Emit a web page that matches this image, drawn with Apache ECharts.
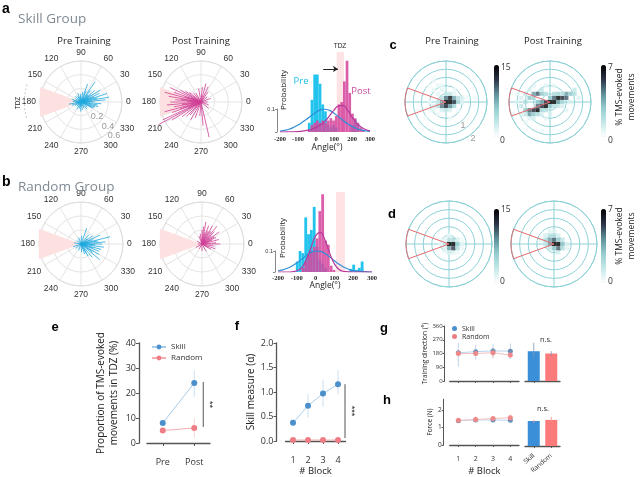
<!DOCTYPE html>
<html><head><meta charset="utf-8">
<script src="https://cdn.jsdelivr.net/npm/echarts@6/dist/echarts.min.js"></script>
<style>html,body{margin:0;padding:0;background:#fff}#c{width:640px;height:477px}</style>
</head><body><div id="c"></div>
<script>
// ================= DATA =================
// polar spokes: [angle (deg), length]
const spokesSkillPre = [[10,0.42],[18,0.40],[32,0.33],[25,0.30],[5,0.36],[355,0.30],[350,0.25],[340,0.22],[333,0.19],[40,0.26],[50,0.22],[55,0.36],[70,0.28],[65,0.18],[80,0.15],[95,0.12],[110,0.14],[120,0.10],[135,0.12],[150,0.10],[165,0.14],[175,0.12],[190,0.18],[200,0.14],[210,0.10],[225,0.09],[240,0.12],[255,0.10],[268,0.14],[280,0.12],[295,0.10],[310,0.14],[320,0.12],[335,0.20],[345,0.26],[2,0.18],[14,0.25],[22,0.20],[36,0.18],[45,0.15],[28,0.12],[12,0.10],[100,0.08],[185,0.08],[260,0.07]];
const spokesSkillPost = [[150,0.35],[155,0.50],[160,0.42],[165,0.55],[170,0.48],[175,0.38],[180,0.45],[185,0.50],[190,0.40],[195,0.55],[200,0.45],[205,0.62],[208,0.70],[212,0.50],[218,0.35],[225,0.30],[145,0.28],[140,0.22],[130,0.18],[120,0.15],[100,0.20],[85,0.22],[75,0.28],[65,0.25],[55,0.18],[40,0.12],[20,0.15],[0,0.10],[340,0.12],[320,0.15],[283,0.53],[275,0.35],[265,0.20],[250,0.25],[240,0.30],[230,0.25],[172,0.30],[188,0.28],[198,0.32],[162,0.25],[178,0.20],[158,0.15],[205,0.20]];
const spokesRandPre = [[14,0.43],[5,0.35],[0,0.30],[352,0.33],[345,0.30],[338,0.28],[330,0.30],[320,0.35],[310,0.25],[300,0.20],[290,0.15],[25,0.30],[35,0.20],[50,0.18],[70,0.24],[85,0.12],[110,0.10],[140,0.08],[170,0.10],[200,0.12],[220,0.10],[250,0.10],[275,0.12],[300,0.14],[10,0.25],[357,0.20],[20,0.18],[325,0.20],[342,0.18],[40,0.12]];
const spokesRandPost = [[80,0.32],[70,0.28],[60,0.30],[50,0.33],[45,0.25],[35,0.30],[25,0.22],[15,0.25],[5,0.20],[0,0.26],[350,0.18],[340,0.20],[330,0.15],[90,0.20],[100,0.15],[110,0.12],[75,0.18],[65,0.20],[55,0.22],[40,0.18],[30,0.20],[150,0.08],[180,0.06],[210,0.10],[240,0.08],[270,0.10],[300,0.12],[330,0.10],[85,0.25],[20,0.15]];
const tdzPolar = [160, 200];
const tdzHeat = [160, 200];

// histograms: [bin start, probability]
const histBinWidth = 15;
const histSkillPre = [[-45,0.04],[-30,0.14],[-15,0.25],[0,0.25],[15,0.21],[30,0.12],[45,0.09],[60,0.03],[75,0.02],[90,0.03],[105,0.02],[195,0.03],[210,0.055],[225,0.035]];
const histSkillPost = [[-45,0.01],[-30,0.03],[-15,0.04],[0,0.05],[15,0.04],[30,0.05],[45,0.04],[60,0.05],[75,0.06],[90,0.05],[105,0.07],[120,0.12],[135,0.13],[150,0.22],[165,0.31],[180,0.17],[195,0.08],[210,0.06],[225,0.04],[240,0.02],[255,0.01]];
const histRandPre = [[-105,0.05],[-90,0.10],[-75,0.09],[-60,0.26],[-45,0.18],[-30,0.20],[-15,0.31],[0,0.12],[15,0.06],[30,0.04],[45,0.02],[180,0.015],[195,0.035],[210,0.01],[225,0.02],[240,0.05]];
const histRandPost = [[-75,0.02],[-60,0.05],[-45,0.08],[-30,0.10],[-15,0.12],[0,0.16],[15,0.29],[30,0.37],[45,0.15],[60,0.13],[75,0.03],[90,0.01]];
const curveX = [-200,-175,-150,-125,-100,-75,-50,-25,0,25,50,75,100,125,150,175,200,225,250,275,300];
const curveSkillPre  = [0.004,0.007,0.012,0.02,0.03,0.043,0.057,0.072,0.086,0.096,0.099,0.094,0.082,0.067,0.051,0.036,0.024,0.015,0.009,0.005,0.003];
const curveSkillPost = [0,0,0.001,0.001,0.002,0.004,0.007,0.012,0.02,0.031,0.046,0.07,0.095,0.114,0.116,0.095,0.065,0.04,0.022,0.011,0.005];
const curveRandPre   = [0.006,0.01,0.018,0.029,0.043,0.06,0.078,0.093,0.1,0.098,0.088,0.072,0.054,0.037,0.023,0.013,0.007,0.004,0.002,0.001,0];
const curveRandPost  = [0,0,0,0.001,0.006,0.02,0.057,0.115,0.172,0.189,0.152,0.09,0.039,0.012,0.003,0.001,0,0,0,0,0];
const bandSkill = [115, 155];
const bandRand = [108, 156];

// heat maps: [x, y, % movements]
const heatSkillPre = [[0,0,15],[0.2,0,15],[0.4,0,12],[0,0.2,10],[0.2,0.2,14],[0.4,0.2,8],[0,-0.2,13],[0.2,-0.2,9],[-0.2,0,8],[-0.2,-0.2,10],[0.6,0,5],[0.6,0.2,4],[0.4,-0.2,5],[-0.2,0.2,4],[0,0.4,3],[0.2,0.4,3],[-0.4,0,3],[-0.4,-0.2,4],[-0.2,-0.4,2],[0,-0.4,3],[0.2,-0.4,2],[0.8,0.2,2],[0.8,0,1.5],[-0.6,-0.2,2],[-0.4,0.4,1.5],[0.4,0.4,1.5],[-0.6,0.6,1],[-0.4,0.8,1.2],[-0.2,0.8,1],[-0.6,-0.4,1.5],[-0.4,-0.6,1],[-0.8,-0.4,1],[0.6,-0.4,1],[1.0,0.2,0.8],[-0.8,0,1],[0.4,0.6,1],[-0.2,0.6,1.5],[1.4,0.2,0.8],[-0.6,1.2,0.8],[0.2,-0.8,0.8],[-1.0,-0.8,0.6],[-0.6,1.0,0.9],[-0.8,0.8,0.7]];
const heatSkillPost = [[0,0,7],[0.2,0,7],[0.4,0.2,7],[0.6,0.2,6],[0.8,0.2,5],[0.8,0.4,4],[1.0,0.4,3],[0.2,0.2,5],[-0.2,0,6],[-0.2,-0.2,7],[-0.4,-0.2,6],[-0.6,-0.2,5],[-0.6,-0.4,7],[-0.8,-0.4,6],[-1.0,-0.4,5],[-1.0,-0.6,4],[-0.8,-0.6,3],[-1.2,-0.4,3],[-0.6,0.4,5],[-0.8,0.4,4],[-0.4,0.4,3],[-1.0,0.2,3],[-0.8,0.2,2.5],[-0.6,0,3],[-0.4,0,4],[0.4,0,4],[0.6,0,2.5],[0,0.2,3],[0,-0.2,3],[0.2,-0.2,2],[1.2,0.4,2],[1.2,0.6,1.5],[-1.2,0,2],[-1.4,-0.2,1.5],[-1.4,0.2,1],[-1.2,0.4,1.5],[-1.0,0.6,1],[-0.4,0.6,1.5],[-0.2,0.4,2],[0.2,0.4,2],[0.4,0.4,2.5],[0.6,0.4,2],[0.4,-0.2,1.5],[0.6,-0.2,1],[-0.2,-0.4,2],[-0.4,-0.4,2.5],[-0.6,-0.6,2],[-1.2,-0.6,1.5],[-1.4,-0.6,1],[-0.8,-0.8,1],[-1.0,-0.8,0.8],[-0.4,-0.6,1],[-1.6,0,0.8],[-1.6,0.4,0.7],[-0.8,0.8,0.8],[-0.2,0.8,0.7],[0.2,0.8,0.6],[1.4,0.2,0.8],[1.0,0,1],[0.8,-0.4,0.7],[-0.2,-0.8,0.7],[0,-0.6,1],[-1.8,-0.6,0.6],[-1.2,-1.0,0.6],[-0.4,-1.4,0.5]];
const heatRandPre = [[0,0,15],[0.2,0,15],[0.2,-0.2,12],[0,-0.2,8],[0.4,0,6],[0.2,0.2,5],[0,0.2,4],[-0.2,0,3],[0.4,-0.2,4],[0.4,0.2,2],[-0.2,-0.2,2],[-0.2,0.2,1.5],[0.6,0,1.5],[0.6,-0.2,1],[0,-0.4,2],[0.2,-0.4,1.5],[-0.4,0,1],[0,0.4,1],[0.4,-0.4,1],[-0.4,0.2,0.8],[0.6,0.2,0.7],[-0.2,-0.4,0.7]];
const heatRandPost = [[0,0,7],[0.2,0,7],[0.2,-0.2,5],[0,0.2,5],[-0.2,0.2,4],[0.2,0.2,3],[-0.2,0,4],[0.4,0,3],[0,-0.2,3],[-0.4,0.2,2],[-0.2,0.4,2],[0,0.4,2],[0.4,-0.2,2],[-0.4,0,1.5],[0.4,0.2,1.5],[-0.4,0.4,1],[0.2,0.4,1],[-0.2,-0.2,1.5],[0.2,-0.4,1],[0.6,0,1],[-0.6,0.2,0.8],[0,0.6,0.8],[-0.2,0.6,0.7],[0.6,-0.2,0.7]];
const heatMaxPre = 15, heatMaxPost = 7;

// panel e
const eCats = ['Pre','Post'];
const eSkill = [8, 24];
const eSkillErr = [[7,9],[18.5,29]];
const eRandom = [5, 6];
const eRandomErr = [[4.4,5.6],[2,10]];
// panel f
const blocks = ['1','2','3','4'];
const fSkill = [0.37, 0.72, 0.97, 1.16];
const fSkillErr = [[0.30,0.45],[0.48,0.96],[0.70,1.25],[0.95,1.45]];
const fRandom = [0.02, 0.02, 0.02, 0.02];
// panel g
const gSkill = [185, 192, 197, 195];
const gSkillErr = [[95,250],[140,235],[150,240],[145,245]];
const gRandom = [180, 180, 185, 170];
const gRandomErr = [[160,200],[165,195],[150,215],[150,190]];
const groups = ['Skill','Random'];
const gBars = [195, 180];
const gBarErr = [[150,250],[165,195]];
// panel h
const hSkill = [1.38, 1.42, 1.42, 1.40];
const hSkillErr = [[1.28,1.48],[1.32,1.52],[1.34,1.50],[1.33,1.47]];
const hRandom = [1.40, 1.45, 1.50, 1.55];
const hRandomErr = [[1.30,1.50],[1.30,1.62],[1.38,1.65],[1.40,1.72]];
const hBars = [1.39, 1.45];
const hBarErr = [[1.30,1.45],[1.35,1.62]];

// ================= BUILD =================
const SANS = "'Open Sans', 'Liberation Sans', sans-serif";
const ARIAL = "'Liberation Sans', Arial, sans-serif";
const TEAL = '#8fd2d8';
const HEAT = ['#ffffff','#c4e8e8','#94cdd0','#5f8f9a','#2a3346','#000000'];
const polar=[], angleAxis=[], radiusAxis=[], grid=[], xAxis=[], yAxis=[], series=[], visualMap=[], graphic=[];

function spokePolar(center, R, spokes, color, tdzArc) {
  const pi = polar.length;
  polar.push({center, radius:R});
  angleAxis.push({polarIndex:pi, type:'value', min:0, max:360, interval:30, startAngle:0, clockwise:false,
    axisLine:{show:true, lineStyle:{color:'#dedede', width:1}}, axisTick:{show:false},
    axisLabel:{show:true, margin:4, fontSize:8.5, color:'#333', fontFamily:ARIAL, formatter:v=>v>=360?'':String(v)},
    splitLine:{show:true, lineStyle:{color:'#e4e4e4', width:1}}});
  radiusAxis.push({polarIndex:pi, type:'value', min:0, max:0.6, interval:0.2, axisLine:{show:false}, axisTick:{show:false},
    axisLabel:{show:false}, splitLine:{show:true, lineStyle:{color:'#e4e4e4'}}});
  series.push({type:'custom', coordinateSystem:'polar', polarIndex:pi, silent:true, z:1, data:[[0.64, tdzPolar[0]]],
    renderItem:(p,api)=>{
      const c0=api.coord([0,0]), a=api.coord([0.64,tdzPolar[0]]), b=api.coord([0.64,tdzPolar[1]]);
      const ch=[{type:'polygon', shape:{points:[c0,a,b]}, style:{fill:'#fde1e1'}}];
      if (tdzArc) {
        const pts=[]; for(let t=tdzPolar[0]+2;t<=tdzPolar[1]-2;t+=3) pts.push(api.coord([0.83,t]));
        ch.push({type:'polyline', shape:{points:pts}, style:{stroke:'#c8c8c8', lineWidth:1, lineDash:[2,2], fill:null}});
      }
      return {type:'group', children:ch};
    }});
  series.push({type:'custom', coordinateSystem:'polar', polarIndex:pi, silent:true, z:3, data:spokes.map(s=>[s[1],s[0]]),
    renderItem:(p,api)=>{
      const r=api.value(0), a=api.value(1);
      const c0=api.coord([0,a]), c1=api.coord([r,a]);
      return {type:'line', shape:{x1:c0[0],y1:c0[1],x2:c1[0],y2:c1[1]}, style:{stroke:color, lineWidth:0.8}};
    }});
}

function heatPolar(center, R, cells, maxV, cb) {
  const pi = polar.length;
  polar.push({center, radius:R});
  angleAxis.push({polarIndex:pi, type:'value', min:0, max:360, interval:90, startAngle:0, clockwise:false,
    axisLine:{show:true, lineStyle:{color:TEAL, width:1}}, axisTick:{show:false}, axisLabel:{show:false},
    splitLine:{show:true, lineStyle:{color:TEAL, width:1}}});
  radiusAxis.push({polarIndex:pi, type:'value', min:0, max:2, interval:0.4, axisLine:{show:false}, axisTick:{show:false},
    axisLabel:{show:false}, splitLine:{show:true, lineStyle:{color:TEAL, width:1}}});
  const gi = grid.length;
  grid.push({left:center[0]-R, top:center[1]-R, width:2*R, height:2*R});
  xAxis.push({gridIndex:gi, type:'value', min:-2, max:2, show:false});
  yAxis.push({gridIndex:gi, type:'value', min:-2, max:2, show:false});
  const si = series.length;
  series.push({type:'scatter', xAxisIndex:gi, yAxisIndex:gi, symbol:'rect', symbolSize:0.2*R/2, data:cells, silent:true, z:3});
  visualMap.push({type:'continuous', seriesIndex:si, dimension:2, min:0, max:maxV, inRange:{color:HEAT},
    left:cb[0], top:cb[1], itemWidth:5, itemHeight:cb[2], calculable:false, padding:0, hoverLink:false, orient:'vertical'});
  series.push({type:'custom', coordinateSystem:'polar', polarIndex:pi, silent:true, z:4, data:[[2, tdzHeat[0]]],
    renderItem:(p,api)=>{
      const pts=[api.coord([0,0])];
      for(let t=tdzHeat[0]; t<=tdzHeat[1]; t+=2) pts.push(api.coord([2,t]));
      pts.push(api.coord([0,0]));
      return {type:'polyline', shape:{points:pts}, style:{stroke:'#e36b70', lineWidth:1, fill:null}};
    }});
}

function hist(box, pre, post, cPre, cPost, band, ymax, arrow) {
  const gi = grid.length;
  grid.push({left:box.left, top:box.top, width:box.width, height:box.height});
  xAxis.push({gridIndex:gi, type:'value', min:-200, max:300, interval:100, axisLine:{show:false}, axisTick:{show:false},
    splitLine:{show:false}, axisLabel:{fontSize:6.5, fontWeight:'bold', color:'#222', fontFamily:"'Liberation Serif', serif", margin:box.lm}});
  yAxis.push({gridIndex:gi, type:'value', min:0, max:ymax, show:false});
  const bandSeries = {type:'custom', xAxisIndex:gi, yAxisIndex:gi, silent:true, z:1, data:[[band[0], 0, band[1]]],
    renderItem:(p,api)=>{
      const a=api.coord([api.value(0), ymax]), b=api.coord([api.value(2), 0]);
      return {type:'rect', shape:{x:a[0], y:a[1], width:b[0]-a[0], height:b[1]-a[1]}, style:{fill:'#fde3e3'}};
    }};
  if (arrow) bandSeries.markLine = {silent:true, symbol:['none','arrow'], symbolSize:5, animation:false,
    lineStyle:{color:'#222', width:1, type:'solid'}, label:{show:false},
    data:[[{coord:[arrow[0],arrow[2]]},{coord:[arrow[1],arrow[2]]}]]};
  series.push(bandSeries);
  const bar=(data,color,z)=>({type:'custom', xAxisIndex:gi, yAxisIndex:gi, silent:true, z, data,
    renderItem:(p,api)=>{
      const x0=api.value(0), v=api.value(1);
      const a=api.coord([x0,v]), b=api.coord([x0+histBinWidth,0]);
      return {type:'rect', shape:{x:a[0], y:a[1], width:b[0]-a[0], height:b[1]-a[1]}, style:{fill:color}};
    }});
  series.push(bar(pre,'#22c4ee',2));
  series.push(bar(post,'rgba(214,72,158,0.88)',3));
  series.push({type:'line', xAxisIndex:gi, yAxisIndex:gi, data:curveX.map((x,i)=>[x,cPre[i]]), smooth:true, showSymbol:false,
    silent:true, z:4, lineStyle:{color:'#2d8ed6', width:1.2}});
  series.push({type:'line', xAxisIndex:gi, yAxisIndex:gi, data:curveX.map((x,i)=>[x,cPost[i]]), smooth:true, showSymbol:false,
    silent:true, z:4, lineStyle:{color:'#b8399c', width:1.2}});
  const h01 = box.height*0.1/ymax;
  const gs = grid.length;
  grid.push({left:box.left-3, top:box.top+box.height-h01, width:1, height:h01});
  xAxis.push({gridIndex:gs, type:'value', min:0, max:1, show:false});
  yAxis.push({gridIndex:gs, type:'value', min:0, max:0.1, interval:0.1, axisLine:{show:true, lineStyle:{color:'#888'}},
    axisTick:{show:true, length:2, lineStyle:{color:'#888'}}, splitLine:{show:false},
    axisLabel:{fontSize:5.5, color:'#333', margin:2, fontFamily:ARIAL, formatter:v=>v>0?String(v):''}});
}

function errBars(gi, errs, color, z) {
  series.push({type:'custom', xAxisIndex:gi, yAxisIndex:gi, silent:true, z, data:errs.map((e,i)=>[i,e[0],e[1]]),
    renderItem:(p,api)=>{
      const a=api.coord([api.value(0),api.value(1)]), b=api.coord([api.value(0),api.value(2)]);
      return {type:'line', shape:{x1:a[0],y1:a[1],x2:b[0],y2:b[1]}, style:{stroke:color, lineWidth:1}};
    }});
}
function sigMark(gi, cat, lo, hi, text, dx) {
  series.push({type:'custom', xAxisIndex:gi, yAxisIndex:gi, silent:true, z:6, data:[[cat, lo, hi]],
    renderItem:(p,api)=>{
      const a=api.coord([api.value(0),api.value(1)]), b=api.coord([api.value(0),api.value(2)]);
      const x=a[0]+dx;
      return {type:'group', children:[
        {type:'line', shape:{x1:x,y1:a[1],x2:x,y2:b[1]}, style:{stroke:'#555', lineWidth:1}},
        {type:'text', x:x+6, y:(a[1]+b[1])/2, rotation:-Math.PI/2, style:{text, fontSize:9, fill:'#222', align:'center', verticalAlign:'middle', fontFamily:ARIAL}}
      ]};
    }});
}
function lineSeries(gi, name, data, lineColor, dotColor, size) {
  series.push({type:'line', name, xAxisIndex:gi, yAxisIndex:gi, data, symbol:'circle', symbolSize:size, silent:true, z:5,
    lineStyle:{color:lineColor, width:1}, itemStyle:{color:dotColor}});
}
const axisDark = {lineStyle:{color:'#555', width:1.3}};

// ---- panels a, b : polar spokes
spokePolar([81,102], 41, spokesSkillPre, '#1ea8de', true);
spokePolar([201,102], 41, spokesSkillPost, '#cf3f95', false);
spokePolar([81,244], 42, spokesRandPre, '#1ea8de', false);
spokePolar([202,244], 42, spokesRandPost, '#cf3f95', false);

// ---- histograms
hist({left:280, top:52, width:90, height:80, lm:4}, histSkillPre, histSkillPost, curveSkillPre, curveSkillPost, bandSkill, 0.348, [40,122,0.274]);
hist({left:278, top:192, width:94, height:80, lm:3}, histRandPre, histRandPost, curveRandPre, curveRandPost, bandRand, 0.381, null);

// ---- panels c, d : heat maps
heatPolar([446,102], 41, heatSkillPre, heatMaxPre, [494,65,72]);
heatPolar([550,102], 41, heatSkillPost, heatMaxPost, [601,65,72]);
heatPolar([449,244], 43, heatRandPre, heatMaxPre, [494,209,74]);
heatPolar([554,244], 43, heatRandPost, heatMaxPost, [601,209,74]);

// ---- panel e
const ge = grid.length;
grid.push({left:147, top:343, width:63, height:100});
xAxis.push({gridIndex:ge, type:'category', data:eCats, offset:10, axisLine:axisDark,
  axisTick:{show:true, alignWithLabel:true, length:3, lineStyle:{color:'#555'}},
  axisLabel:{fontSize:9, color:'#333', margin:5, fontFamily:SANS}});
yAxis.push({gridIndex:ge, type:'value', min:0, max:40, interval:10, offset:8, axisLine:{show:true, ...axisDark},
  axisTick:{show:true, length:3, lineStyle:{color:'#555'}}, splitLine:{show:false},
  axisLabel:{fontSize:9, color:'#333', margin:3, fontFamily:SANS},
  name:'Proportion of TMS-evoked\nmovements in TDZ (%)', nameLocation:'middle', nameGap:18,
  nameTextStyle:{fontSize:10, color:'#222', lineHeight:13, fontFamily:SANS}});
errBars(ge, eSkillErr, 'rgba(180,210,235,0.7)', 3);
errBars(ge, eRandomErr, 'rgba(245,195,195,0.7)', 3);
lineSeries(ge, 'Skill', eSkill, '#a7cdec', '#4b8fcb', 6);
lineSeries(ge, 'Random', eRandom, '#f3aeb1', '#ef7d85', 6);
sigMark(ge, 1, 6.4, 24.4, '**', 9);

// ---- panel f
const gf = grid.length;
grid.push({left:285.5, top:343, width:60, height:100});
xAxis.push({gridIndex:gf, type:'category', data:blocks, offset:10, axisLine:axisDark,
  axisTick:{show:true, alignWithLabel:true, length:3, lineStyle:{color:'#555'}},
  axisLabel:{fontSize:9, color:'#333', margin:5, fontFamily:SANS},
  name:'# Block', nameLocation:'middle', nameGap:15, nameTextStyle:{fontSize:9.5, color:'#222', fontFamily:SANS}});
yAxis.push({gridIndex:gf, type:'value', min:0, max:2, interval:0.5, offset:9, axisLine:{show:true, ...axisDark},
  axisTick:{show:true, length:3, lineStyle:{color:'#555'}}, splitLine:{show:false},
  axisLabel:{fontSize:9, color:'#333', margin:3, fontFamily:SANS, formatter:v=>v.toFixed(1)},
  name:'Skill measure (α)', nameLocation:'middle', nameGap:20, nameTextStyle:{fontSize:10, color:'#222', fontFamily:SANS}});
errBars(gf, fSkillErr, 'rgba(180,210,235,0.7)', 3);
lineSeries(gf, 'Skill', fSkill, '#a7cdec', '#4b8fcb', 6);
lineSeries(gf, 'Random', fRandom, '#f3aeb1', '#ef7d85', 6);
sigMark(gf, 3, 0.06, 1.16, '***', 7);

// ---- panel g
const gg = grid.length;
grid.push({left:449.7, top:326, width:69.3, height:55});
xAxis.push({gridIndex:gg, type:'category', data:blocks, offset:6, axisLine:axisDark,
  axisTick:{show:true, alignWithLabel:true, length:2, lineStyle:{color:'#555'}}, axisLabel:{show:false}});
yAxis.push({gridIndex:gg, type:'value', min:0, max:360, interval:90, offset:5, axisLine:{show:true, lineStyle:{color:'#555', width:1}},
  axisTick:{show:true, length:2, lineStyle:{color:'#555'}}, splitLine:{show:false},
  axisLabel:{fontSize:6, color:'#333', margin:2, fontFamily:SANS},
  name:'Training direction (°)', nameLocation:'middle', nameGap:14, nameTextStyle:{fontSize:6.5, color:'#222', fontFamily:SANS}});
errBars(gg, gSkillErr, 'rgba(170,200,230,0.8)', 3);
errBars(gg, gRandomErr, 'rgba(245,185,185,0.8)', 3);
lineSeries(gg, 'Skill', gSkill, '#b9d5ef', '#6b8fb8', 5);
lineSeries(gg, 'Random', gRandom, '#f6c0c0', '#f08a8a', 5);
const ggb = grid.length;
grid.push({left:525, top:326, width:35, height:55});
xAxis.push({gridIndex:ggb, type:'category', data:groups, offset:6, axisLine:axisDark,
  axisTick:{show:true, alignWithLabel:true, length:2, lineStyle:{color:'#555'}}, axisLabel:{show:false}});
yAxis.push({gridIndex:ggb, type:'value', min:0, max:360, show:false});
series.push({type:'bar', xAxisIndex:ggb, yAxisIndex:ggb, barWidth:12, silent:true, z:2,
  data:[{value:gBars[0], itemStyle:{color:'#3b8fd8'}},{value:gBars[1], itemStyle:{color:'#fb7b7b'}}]});
errBars(ggb, gBarErr, 'rgba(120,150,190,0.8)', 3);

// ---- panel h
const gh = grid.length;
grid.push({left:449.7, top:399.2, width:69.3, height:46.8});
xAxis.push({gridIndex:gh, type:'category', data:blocks, offset:6, axisLine:axisDark,
  axisTick:{show:true, alignWithLabel:true, length:2, lineStyle:{color:'#555'}},
  axisLabel:{fontSize:7, color:'#333', margin:4, fontFamily:SANS},
  name:'# Block', nameLocation:'middle', nameGap:15, nameTextStyle:{fontSize:9.5, color:'#222', fontFamily:SANS}});
yAxis.push({gridIndex:gh, type:'value', min:0, max:2.6, interval:1, offset:6, axisLine:{show:true, lineStyle:{color:'#555', width:1}},
  axisTick:{show:true, length:2, lineStyle:{color:'#555'}}, splitLine:{show:false},
  axisLabel:{fontSize:6.5, color:'#333', margin:2, fontFamily:SANS, showMaxLabel:false, formatter:v=>Number.isInteger(v)?String(v):''},
  name:'Force (N)', nameLocation:'middle', nameGap:10, nameTextStyle:{fontSize:6.5, color:'#222', fontFamily:SANS}});
errBars(gh, hSkillErr, 'rgba(170,200,230,0.8)', 3);
errBars(gh, hRandomErr, 'rgba(245,150,150,0.8)', 3);
lineSeries(gh, 'Skill', hSkill, '#b9d5ef', '#6b8fb8', 5);
lineSeries(gh, 'Random', hRandom, '#f6c0c0', '#f08a8a', 5);
const ghb = grid.length;
grid.push({left:525, top:399.2, width:35, height:46.8});
xAxis.push({gridIndex:ghb, type:'category', data:groups, offset:6, axisLine:axisDark,
  axisTick:{show:true, alignWithLabel:true, length:2, lineStyle:{color:'#555'}},
  axisLabel:{fontSize:6.5, color:'#333', margin:3, rotate:40, fontFamily:SANS}});
yAxis.push({gridIndex:ghb, type:'value', min:0, max:2.6, show:false});
series.push({type:'bar', xAxisIndex:ghb, yAxisIndex:ghb, barWidth:12, silent:true, z:2,
  data:[{value:hBars[0], itemStyle:{color:'#3b8fd8'}},{value:hBars[1], itemStyle:{color:'#fb7b7b'}}]});
errBars(ghb, hBarErr, 'rgba(245,150,150,0.9)', 3);

// ---- texts
function T(text, x, y, o={}) {
  graphic.push({type:'text', x, y, rotation:o.rot||0, silent:true, z:100,
    style:{text, fontSize:o.size||10, fontWeight:o.bold?'bold':'normal', fill:o.color||'#222',
      fontFamily:o.font||SANS, align:o.align||'center', verticalAlign:'middle', lineHeight:o.lh||undefined}});
}
T('a', 2, 9, {size:14, bold:true, font:ARIAL, align:'left', color:'#000'});
T('Skill Group', 18, 19, {size:13.5, color:'#7f8a93', align:'left'});
T('Pre Training', 84, 41, {size:9.5});
T('Post Training', 201, 41, {size:9.5});
T('TDZ', 18, 103, {size:6.5, rot:Math.PI/2, font:ARIAL});
T('0.2', 97, 117, {size:9, color:'#999', font:ARIAL});
T('0.4', 108, 127, {size:9, color:'#999', font:ARIAL});
T('0.6', 114, 136, {size:9, color:'#999', font:ARIAL});
T('TDZ', 340, 46, {size:6.5, font:ARIAL});
T('Pre', 301, 81, {size:9.5, color:'#1fc0ea'});
T('Post', 361, 91, {size:9.5, color:'#cc4aa0'});
T('Probability', 284, 90, {size:8, rot:Math.PI/2});
T('Angle(°)', 327, 148, {size:8.5});
T('b', 2, 182, {size:14, bold:true, font:ARIAL, align:'left', color:'#000'});
T('Random Group', 18, 187, {size:13.5, color:'#7f8a93', align:'left'});
T('Probability', 283, 238, {size:8, rot:Math.PI/2});
T('Angle(°)', 325, 286, {size:8.5});
T('c', 393, 45, {size:13, bold:true, font:ARIAL, color:'#000'});
T('Pre Training', 452, 41, {size:9.5});
T('Post Training', 553, 41, {size:9.5});
T('1', 463, 126, {size:9, color:'#999', font:ARIAL});
T('2', 473, 139, {size:9, color:'#999', font:ARIAL});
T('15', 501, 68, {size:8.5, color:'#333', align:'left'});
T('0', 500, 141, {size:8.5, color:'#333', align:'left'});
T('7', 608, 68, {size:8.5, color:'#333', align:'left'});
T('0', 608, 141, {size:8.5, color:'#333', align:'left'});
T('% TMS-evoked\nmovements', 626, 97, {size:8.5, rot:Math.PI/2, lh:12});
T('d', 392, 214, {size:13, bold:true, font:ARIAL, color:'#000'});
T('15', 501, 210, {size:8.5, color:'#333', align:'left'});
T('0', 500, 282, {size:8.5, color:'#333', align:'left'});
T('7', 608, 210, {size:8.5, color:'#333', align:'left'});
T('0', 608, 282, {size:8.5, color:'#333', align:'left'});
T('% TMS-evoked\nmovements', 626, 236, {size:8.5, rot:Math.PI/2, lh:12});
T('e', 55, 327, {size:13, bold:true, font:ARIAL, color:'#000'});
T('f', 237, 326, {size:13, bold:true, font:ARIAL, color:'#000'});
T('g', 384, 328, {size:13, bold:true, font:ARIAL, color:'#000'});
T('h', 387, 400, {size:13, bold:true, font:ARIAL, color:'#000'});
T('n.s.', 546, 340, {size:7.5, color:'#333'});
T('n.s.', 543, 409, {size:7.5, color:'#333'});

const option = {
  animation:false,
  backgroundColor:'#fff',
  polar, angleAxis, radiusAxis, grid, xAxis, yAxis, visualMap, series, graphic,
  legend:[
    {left:146, top:338, orient:'vertical', itemGap:3, itemWidth:14, itemHeight:6, selectedMode:false,
      data:['Skill','Random'], textStyle:{fontSize:8, color:'#333', fontFamily:SANS}},
    {left:447, top:320, orient:'vertical', itemGap:1, itemWidth:5, itemHeight:5, icon:'circle', selectedMode:false,
      data:['Skill','Random'], textStyle:{fontSize:7, color:'#333', fontFamily:SANS, lineHeight:7}}
  ]
};
const chart = echarts.init(document.getElementById('c'), null, {width:640, height:477});
chart.setOption(option);
</script></body></html>
